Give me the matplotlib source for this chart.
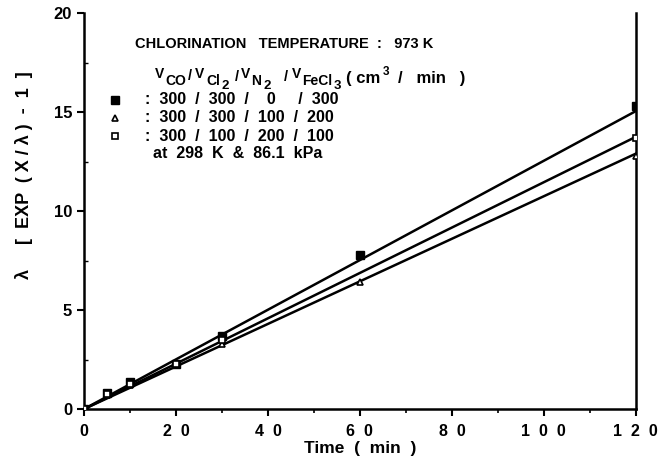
import numpy as np
import matplotlib
matplotlib.use("Agg")
import matplotlib.pyplot as plt

plt.rcParams['font.family'] = ['Liberation Sans', 'DejaVu Sans']

# data
t_a = [0, 5, 10, 20, 30, 60, 120]
y_a = [0, 0.8, 1.35, 2.3, 3.7, 7.8, 15.3]      # filled squares 300/300/0/300
t_b = [0, 5, 10, 20, 30, 60, 120]
y_b = [0, 0.7, 1.2, 2.3, 3.3, 6.4, 12.8]       # triangles 300/300/100/200
t_c = [0, 5, 10, 20, 30, 120]
y_c = [0, 0.75, 1.25, 2.25, 3.5, 13.7]         # open squares 300/100/200/100
line_end = [15.05, 12.9, 13.75]                # fitted lines at t=120 (through origin)

xticks = [0, 20, 40, 60, 80, 100, 120]
xticklabels = ['0', '2  0', '4  0', '6  0', '8  0', '1  0  0', '1  2  0']
yticks = [0, 5, 10, 15, 20]

fig = plt.figure(figsize=(6.7, 4.68), dpi=100)
ax = fig.add_axes([0.1254, 0.126, 0.8236, 0.846])

for end in line_end:
    ax.plot([0, 120], [0, end], color='black', lw=1.8, zorder=2)

ax.plot(t_a, y_a, ls='none', marker='s', ms=6, mfc='black', mec='black', zorder=3)
ax.plot(t_b, y_b, ls='none', marker='^', ms=5, mfc='white', mec='black', mew=1.2, zorder=3)
ax.plot(t_c, y_c, ls='none', marker='s', ms=5, mfc='white', mec='black', mew=1.2, zorder=3)

ax.set_xlim(0, 120)
ax.set_ylim(0, 20)
ax.spines['top'].set_visible(False)
for s in ['left', 'bottom', 'right']:
    ax.spines[s].set_linewidth(1.8)
ax.set_xticks(xticks)
ax.set_xticklabels(xticklabels, fontweight='bold', fontsize=11.5)
ax.set_xticks(np.arange(10, 120, 20), minor=True)
ax.set_yticks(yticks)
ax.set_yticklabels([str(v) for v in yticks], fontweight='bold', fontsize=12)
ax.set_yticks(np.arange(2.5, 20, 5), minor=True)
ax.tick_params(axis='both', which='major', direction='out', length=5, width=1.5)
ax.tick_params(axis='x', which='minor', direction='out', length=3, width=1.2)
ax.tick_params(axis='y', which='minor', direction='in', length=3, width=1.0)
ax.tick_params(axis='x', pad=6)

ax.set_xlabel('Time  (  min  )', fontweight='bold', fontsize=12.5, labelpad=1)
fig.text(0.036, 0.626, 'λ     [  EXP  ( X / λ )  -  1  ]', rotation=90, fontsize=13,
         fontweight='bold', ha='center', va='center')

# legend block
def px(x, y):
    return x / 670, 1 - y / 468

fig.text(*px(135, 44), 'CHLORINATION   TEMPERATURE  :   973 K', fontweight='bold',
         fontsize=10.5, va='center', ha='left')

pieces = [('V', 155, 74, 10), ('CO', 165, 81, 10), ('/', 188, 76, 10.5),
          ('V', 195, 74, 10), ('Cl', 206, 81, 10), ('2', 222, 86, 9.5), ('/', 235, 77, 10.5),
          ('V', 241, 74, 10), ('N', 251, 81, 10), ('2', 263, 86, 9.5), ('/', 284, 77, 10.5),
          ('V', 292, 74, 10), ('FeCl', 302, 81, 10), ('3', 334, 86, 9.5),
          ('( cm', 346, 78, 12), ('3', 383, 72, 8.5), ('/   min   )', 398, 78, 12)]
for s, x, y, fs in pieces:
    fig.text(*px(x, y), s, fontweight='bold', fontsize=fs, va='center', ha='left')

rows = [(145, 100, ':  300  /  300  /    0     /  300'),
        (145, 118, ':  300  /  300  /  100  /  200'),
        (145, 136, ':  300  /  100  /  200  /  100'),
        (153, 154, 'at  298  K  &  86.1  kPa')]
for x, y, s in rows:
    fig.text(*px(x, y), s, fontweight='bold', fontsize=11.5, va='center', ha='left')

mk_x = 115 / 670
fig.add_artist(plt.Line2D([mk_x], [1 - 100 / 468], marker='s', ms=6, mfc='black', mec='black', ls='none'))
fig.add_artist(plt.Line2D([mk_x], [1 - 118 / 468], marker='^', ms=5, mfc='white', mec='black', mew=1.2, ls='none'))
fig.add_artist(plt.Line2D([mk_x], [1 - 136 / 468], marker='s', ms=5, mfc='white', mec='black', mew=1.2, ls='none'))

fig.savefig('out.png', dpi=100)
